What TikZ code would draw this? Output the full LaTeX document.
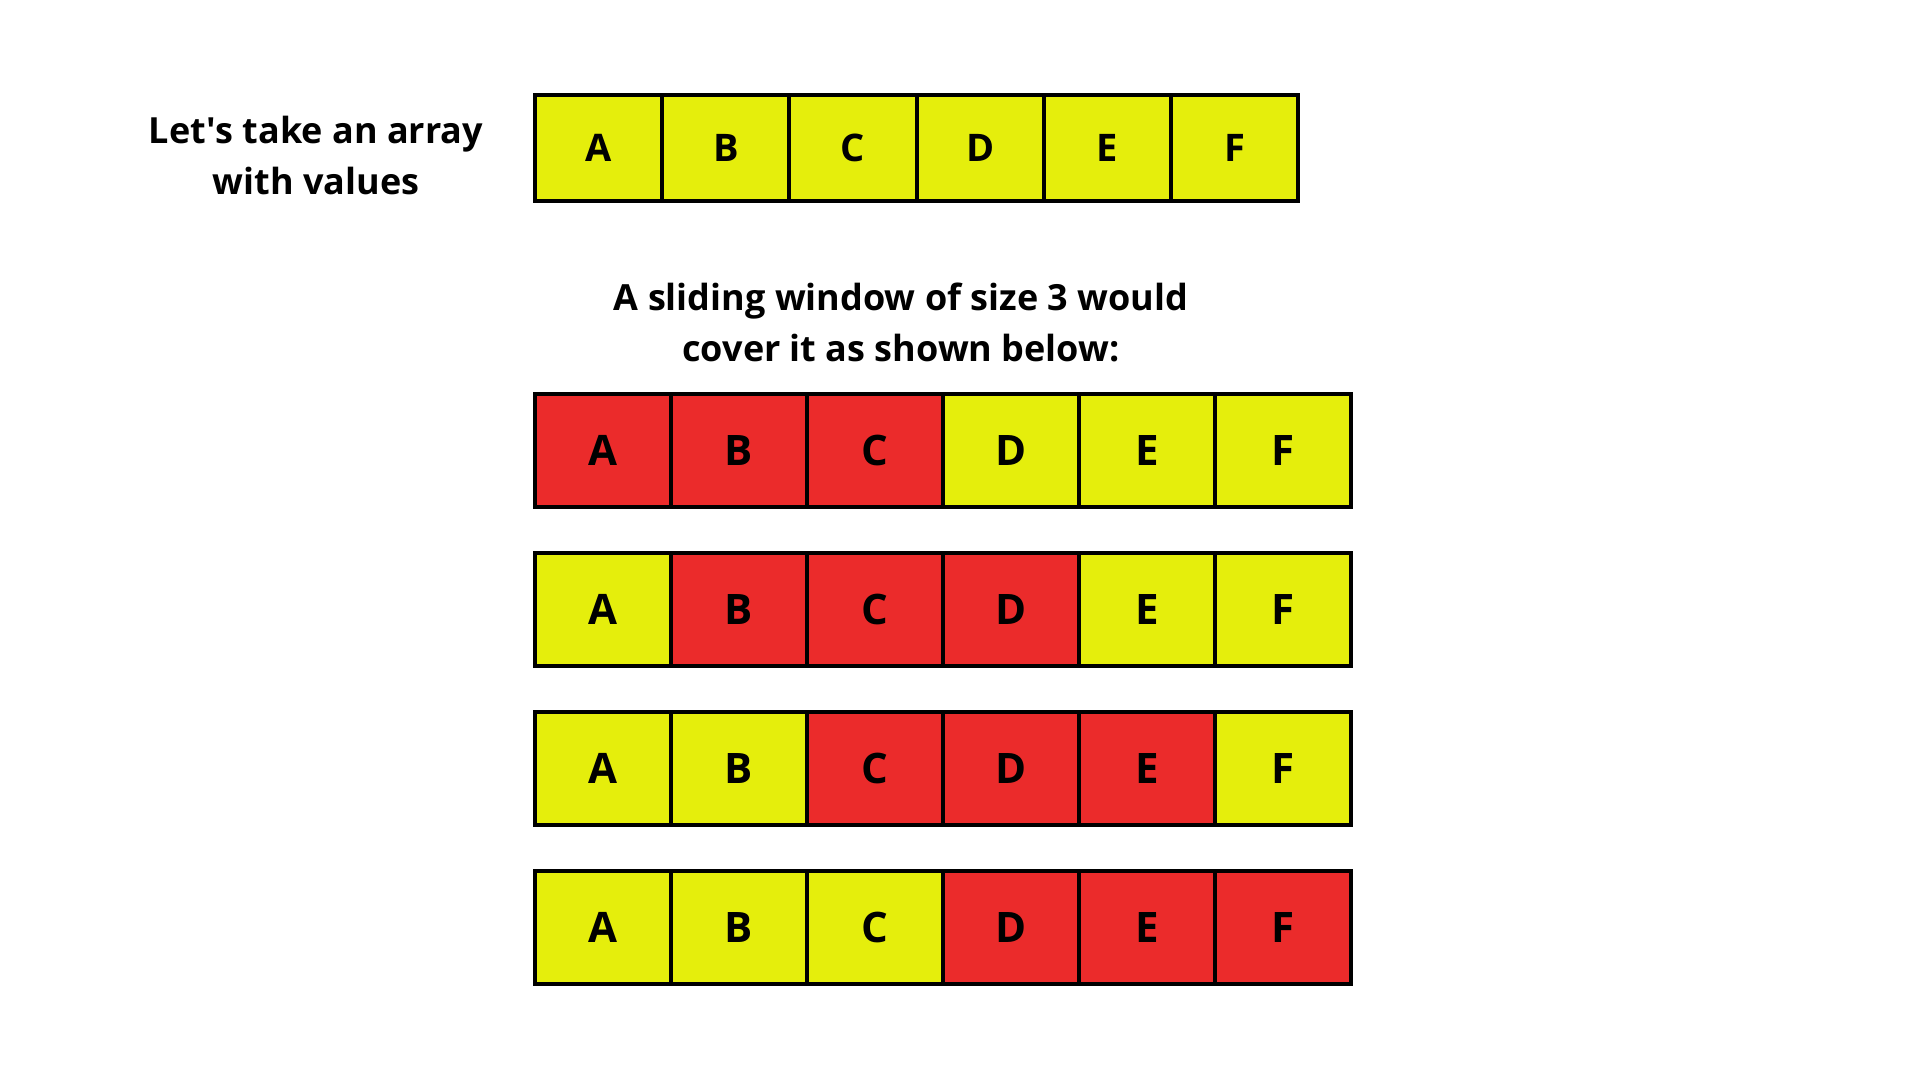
\documentclass[tikz,border=0pt]{standalone}
\usepackage{fontspec}
\setmainfont{Open Sans}
\usepackage{xcolor}
\usetikzlibrary{positioning}
\definecolor{cellyellow}{RGB}{229,238,12}
\definecolor{cellred}{RGB}{235,43,43}
\tikzset{
  topcell/.style={rectangle, draw=black, line width=2pt, fill=cellyellow,
                  minimum width=63.6pt, minimum height=53pt, inner sep=0pt,
                  outer sep=0pt, font=\bfseries\fontsize{19}{22}\selectfont},
  wincell/.style={rectangle, draw=black, line width=2pt,
                  minimum width=68pt, minimum height=56.5pt, inner sep=0pt,
                  outer sep=0pt, font=\bfseries\fontsize{21}{24}\selectfont},
  caption/.style={align=center, font=\bfseries\fontsize{18}{25.5}\selectfont}
}
\begin{document}
\begin{tikzpicture}[x=0.5pt, y=-0.5pt]
  \useasboundingbox[fill=white] (0,0) rectangle (1920,1080);

  %% -- The array -----------------------------------------------------------
  \node[caption] (intro) at (316,156) {Let\textquotesingle s take an array\\with values};

  \node[topcell] (top1) at (598.6,148) {A};
  \foreach \l [count=\i from 2] in {B,C,D,E,F} {
    \pgfmathtruncatemacro\prev{\i-1}
    \node[topcell, right=0pt of top\prev] (top\i) {\l};
  }

  %% -- The windows ---------------------------------------------------------
  \node[caption] (explain) at (901,322) {A sliding window of size 3 would\\cover it as shown below:};

  \foreach \r/\y in {1/450.5, 2/609.5, 3/768.5, 4/927.5} {
    \foreach \l [count=\i] in {A,B,C,D,E,F} {
      \ifnum\i<\r \def\fillc{cellyellow}%
      \else\ifnum\i>\numexpr\r+2\relax \def\fillc{cellyellow}%
      \else \def\fillc{cellred}\fi\fi
      \ifnum\i=1
        \node[wincell, fill=\fillc] (win\r-\i) at (603,\y) {\l};
      \else
        \pgfmathtruncatemacro\prev{\i-1}
        \node[wincell, fill=\fillc, right=0pt of win\r-\prev] (win\r-\i) {\l};
      \fi
    }
  }

\end{tikzpicture}
\end{document}
